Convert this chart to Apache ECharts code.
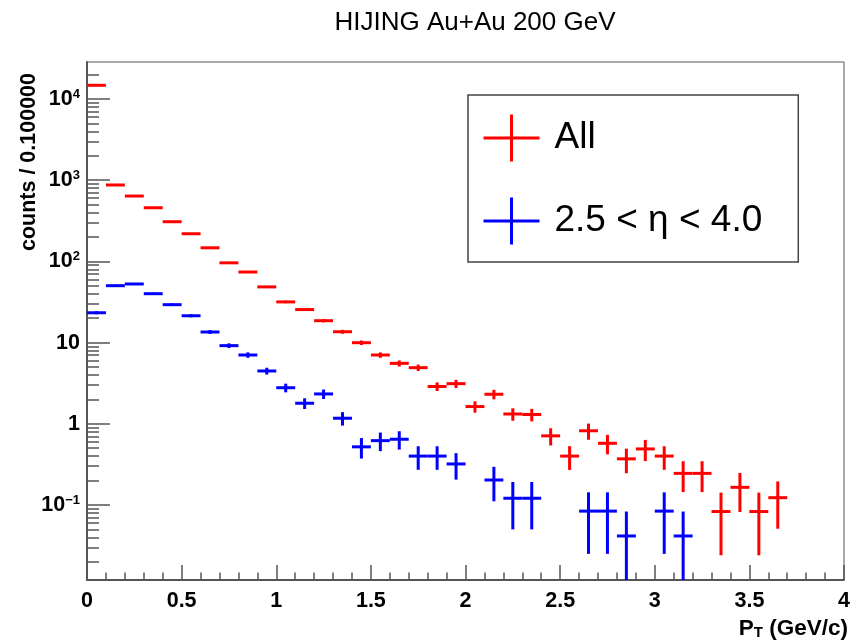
<!DOCTYPE html>
<html>
<head>
<meta charset="utf-8">
<script src="https://cdn.jsdelivr.net/npm/echarts@6/dist/echarts.min.js"></script>
<style>
  html, body { margin: 0; padding: 0; background: #ffffff; }
  #chart { width: 853px; height: 642px; }
</style>
</head>
<body>
<div id="chart"></div>
<script>
// pT histogram binning (GeV/c)
const ptMin = 0;
const binWidth = 0.1;

// All charged particles: bin contents and errors per 0.1 GeV/c bin
const allCounts = [14750, 873, 638, 458, 308, 219, 147, 96, 74, 48.5,
  31.7, 25.5, 18.6, 13.6, 9.97, 7.03, 5.55, 4.91, 2.88, 3.12,
  1.63, 2.31, 1.32, 1.30, 0.71, 0.40, 0.82, 0.575, 0.37, 0.49,
  0.40, 0.245, 0.245, 0.083, 0.165, 0.083, 0.123, null, null, null];
const allErrors = [25, 6.0, 5.2, 4.4, 3.6, 3.0, 2.5, 2.0, 1.76, 1.42,
  1.15, 1.03, 0.88, 0.75, 0.64, 0.54, 0.48, 0.45, 0.35, 0.36,
  0.26, 0.31, 0.23, 0.23, 0.17, 0.13, 0.185, 0.155, 0.124, 0.143,
  0.129, 0.101, 0.101, 0.059, 0.083, 0.059, 0.072, null, null, null];

// Forward region 2.5 < eta < 4.0
const etaCounts = [23.3, 50.2, 52.7, 40.0, 29.3, 21.4, 13.5, 9.17, 7.03, 4.47,
  2.78, 1.79, 2.33, 1.17, 0.52, 0.62, 0.645, 0.40, 0.40, 0.32,
  null, 0.203, 0.121, 0.121, null, null, 0.084, 0.084, 0.0415, null,
  0.084, 0.0415, null, null, null, null, null, null, null, null];
const etaErrors = [0.99, 1.45, 1.48, 1.29, 1.1, 0.94, 0.75, 0.62, 0.54, 0.43,
  0.34, 0.27, 0.31, 0.22, 0.147, 0.16, 0.164, 0.129, 0.129, 0.115,
  null, 0.092, 0.071, 0.071, null, null, 0.059, 0.059, 0.0415, null,
  0.059, 0.0415, null, null, null, null, null, null, null, null];

// Axis ranges and tick labels
const xRange = [0, 4];
const xTickStep = 0.5;
const yRange = [0.01191, 28560];
const yLabelValues = [0.1, 1, 10, 100, 1000, 10000];

const seriesNames = ['All', '2.5 < \u03b7 < 4.0'];
const seriesColors = ['#ff0000', '#0000ff'];

const FONT = '"Liberation Sans", Arial, Helvetica, sans-serif';
const AXIS_GREY = '#555555';

// minor log ticks: 2..9 x 10^k inside the visible range
const yMinorTicks = [];
for (let k = -2; k <= 4; k++) {
  for (let m = 2; m <= 9; m++) {
    const t = parseFloat((m * Math.pow(10, k)).toPrecision(6));
    if (t > yRange[0] && t < yRange[1]) yMinorTicks.push(t);
  }
}

function toRows(counts, errors) {
  const rows = [];
  counts.forEach(function (v, i) {
    if (v == null) return;
    const lo = ptMin + i * binWidth;
    rows.push([lo, lo + binWidth, v, errors[i]]);
  });
  return rows;
}

// histogram point: horizontal bin-width bar plus vertical error bar
function binRenderer(color) {
  return function (params, api) {
    const x0 = api.value(0), x1 = api.value(1);
    const v = api.value(2), e = api.value(3);
    const xc = (x0 + x1) / 2;
    const left = api.coord([x0, v]);
    const right = api.coord([x1, v]);
    const lowVal = Math.max(v - e, yRange[0]);
    const highVal = Math.min(v + e, yRange[1]);
    const top = api.coord([xc, highVal]);
    const bottom = api.coord([xc, lowVal]);
    return {
      type: 'group',
      children: [
        { type: 'line', shape: { x1: left[0], y1: left[1], x2: right[0], y2: right[1] },
          style: { stroke: color, lineWidth: 3, lineCap: 'butt' } },
        { type: 'line', shape: { x1: top[0], y1: top[1], x2: bottom[0], y2: bottom[1] },
          style: { stroke: color, lineWidth: 3, lineCap: 'butt' } }
      ]
    };
  };
}

const crossIcon = 'path://M0,23.5L56,23.5M28,0L28,47';

const chart = echarts.init(document.getElementById('chart'), null, { renderer: 'canvas' });

chart.setOption({
  animation: false,
  backgroundColor: '#ffffff',
  title: {
    text: 'HIJING Au+Au 200 GeV',
    left: 470,
    top: 5,
    textAlign: 'center',
    textStyle: { fontFamily: FONT, fontSize: 26, fontWeight: 'normal', color: '#000000' }
  },
  grid: {
    left: 87, right: 5, top: 62, bottom: 62,
    show: true, borderColor: AXIS_GREY, borderWidth: 1, backgroundColor: 'transparent'
  },
  legend: {
    orient: 'vertical',
    left: 468,
    top: 95,
    padding: [18, 36, 16, 14],
    itemWidth: 56,
    itemHeight: 47,
    itemGap: 33,
    selectedMode: false,
    borderColor: '#444444',
    borderWidth: 1.5,
    backgroundColor: '#ffffff',
    textStyle: { fontFamily: FONT, fontSize: 37, color: '#000000', padding: [0, 0, 0, 10] },
    data: seriesNames.map(function (n, i) {
      return {
        name: n,
        icon: crossIcon,
        itemStyle: { color: 'rgba(0,0,0,0)', borderColor: seriesColors[i], borderWidth: 3 }
      };
    })
  },
  xAxis: {
    type: 'value',
    min: xRange[0],
    max: xRange[1],
    interval: xTickStep,
    axisLine: { show: true, onZero: false, lineStyle: { color: AXIS_GREY, width: 2 } },
    axisTick: { show: true, inside: true, length: 15, lineStyle: { color: AXIS_GREY, width: 1.5 } },
    minorTick: { show: true, splitNumber: 5, length: 7.5, lineStyle: { color: AXIS_GREY, width: 1.5 } },
    splitLine: { show: false },
    minorSplitLine: { show: false },
    axisLabel: {
      margin: 10,
      color: '#000000',
      fontFamily: FONT,
      fontSize: 21.5,
      fontWeight: 'bold',
      formatter: function (v) { return String(v); }
    }
  },
  yAxis: [
    {
      type: 'log',
      logBase: 10,
      min: yRange[0],
      max: yRange[1],
      position: 'left',
      axisLine: { show: true, lineStyle: { color: AXIS_GREY, width: 2 } },
      axisTick: { show: true, inside: true, length: 23, customValues: yLabelValues,
        lineStyle: { color: AXIS_GREY, width: 1.5 } },
      splitLine: { show: false },
      axisLabel: {
        margin: 7,
        color: '#000000',
        customValues: yLabelValues,
        formatter: function (v) {
          const p = Math.round(Math.log10(v));
          if (p === 0) return '{b|1}';
          if (p === 1) return '{b|10}';
          return '{b|10}{s|' + (p < 0 ? '\u2212' + (-p) : p) + '}';
        },
        rich: {
          b: { fontFamily: FONT, fontSize: 21.5, fontWeight: 'bold', color: '#000000',
               lineHeight: 22, verticalAlign: 'bottom' },
          s: { fontFamily: FONT, fontSize: 13, fontWeight: 'bold', color: '#000000',
               lineHeight: 13, verticalAlign: 'top' }
        }
      }
    },
    {
      type: 'log',
      logBase: 10,
      min: yRange[0],
      max: yRange[1],
      position: 'left',
      offset: 0,
      axisLine: { show: false },
      axisLabel: { show: false },
      splitLine: { show: false },
      axisTick: { show: true, inside: true, length: 12, customValues: yMinorTicks,
        lineStyle: { color: AXIS_GREY, width: 1.5 } }
    }
  ],
  graphic: [
    {
      type: 'text',
      x: 29,
      y: 162,
      rotation: Math.PI / 2,
      style: {
        text: 'counts / 0.100000',
        fill: '#000000',
        font: 'bold 21.5px ' + FONT,
        align: 'center', verticalAlign: 'middle',
        textAlign: 'center', textVerticalAlign: 'middle'
      }
    },
    {
      type: 'text',
      x: 848,
      y: 629,
      style: {
        text: '{p|P}{t|T}{p| (GeV/c)}',
        align: 'right', verticalAlign: 'middle',
        textAlign: 'right', textVerticalAlign: 'middle',
        rich: {
          p: { fontFamily: FONT, fontSize: 22.5, fontWeight: 'bold', fill: '#000000', color: '#000000',
               lineHeight: 23, verticalAlign: 'top' },
          t: { fontFamily: FONT, fontSize: 15, fontWeight: 'bold', fill: '#000000', color: '#000000',
               lineHeight: 15, verticalAlign: 'bottom' }
        }
      }
    }
  ],
  series: [
    {
      name: seriesNames[0],
      type: 'custom',
      xAxisIndex: 0,
      yAxisIndex: 0,
      clip: true,
      itemStyle: { color: seriesColors[0] },
      encode: { x: [0, 1], y: 2 },
      renderItem: binRenderer(seriesColors[0]),
      data: toRows(allCounts, allErrors)
    },
    {
      name: seriesNames[1],
      type: 'custom',
      xAxisIndex: 0,
      yAxisIndex: 0,
      clip: true,
      itemStyle: { color: seriesColors[1] },
      encode: { x: [0, 1], y: 2 },
      renderItem: binRenderer(seriesColors[1]),
      data: toRows(etaCounts, etaErrors)
    }
  ]
});
</script>
</body>
</html>
